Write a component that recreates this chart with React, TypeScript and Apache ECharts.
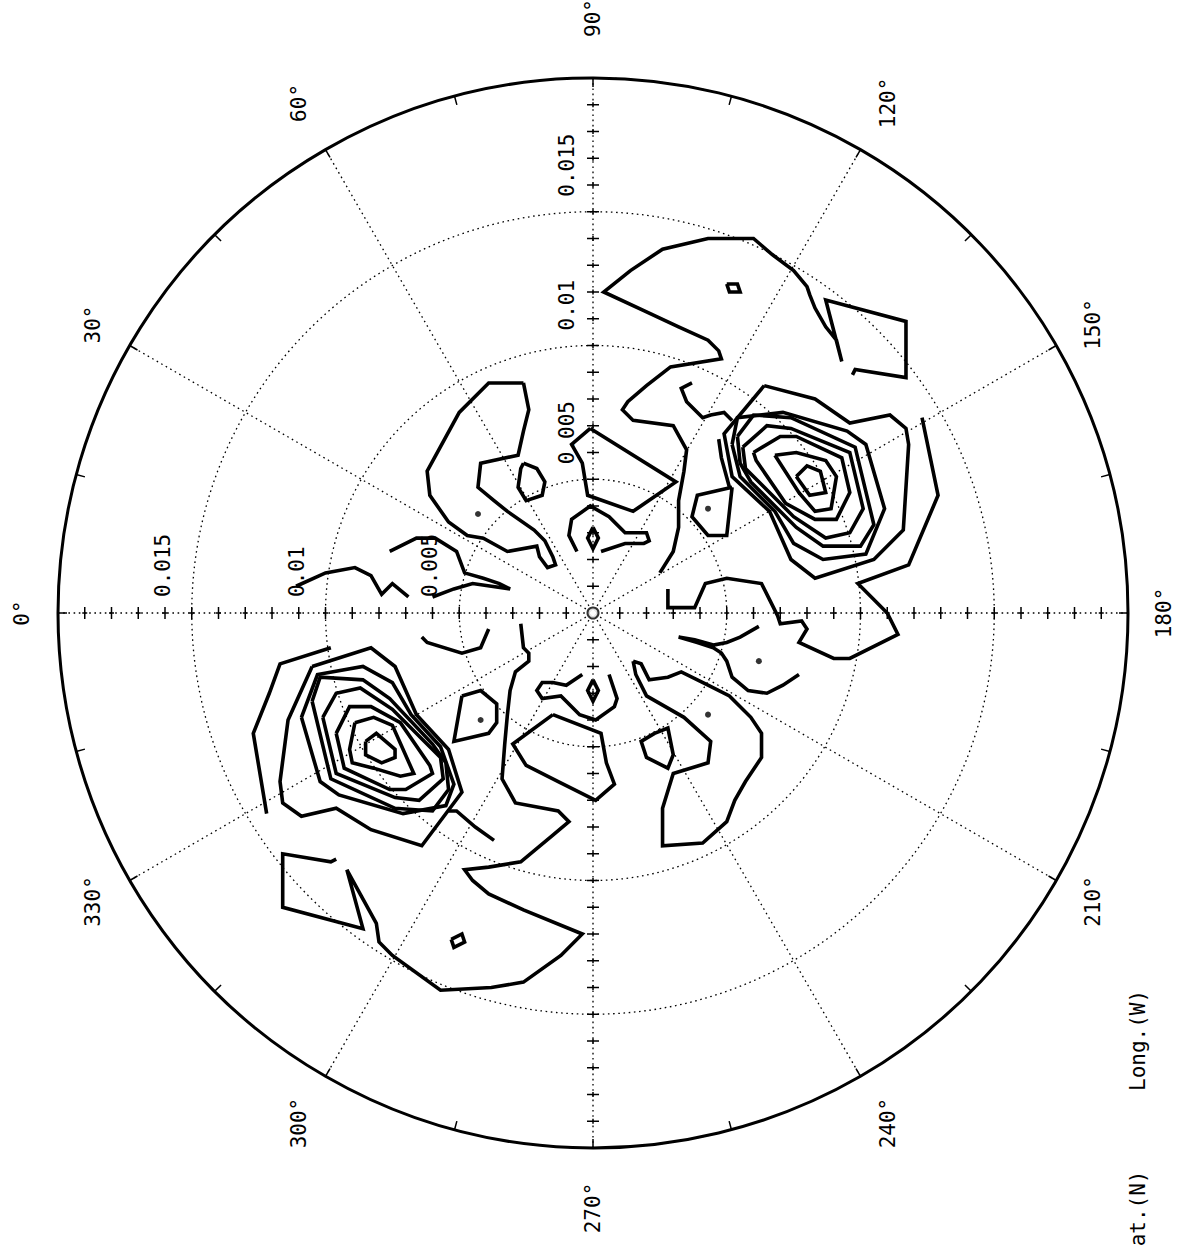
import React, { useEffect, useRef } from "react";
import * as echarts from "echarts";

// ---------------- axes ----------------
const LONGITUDES = [0, 30, 60, 90, 120, 150, 180, 210, 240, 270, 300, 330];
const LONGITUDE_LABELS = ["0°", "30°", "60°", "90°", "120°", "150°", "180°", "210°", "240°", "270°", "300°", "330°"];
const RADIUS_MAX = 0.02;
const RADIUS_LABEL_VALUES = [0.005, 0.01, 0.015];
const RADIUS_LABEL_TEXTS = ["0.005", "0.01", "0.015"];
const RADIUS_TICKS = [0.001, 0.002, 0.003, 0.004, 0.005, 0.006, 0.007, 0.008, 0.009, 0.01, 0.011, 0.012, 0.013, 0.014, 0.015, 0.016, 0.017, 0.018, 0.019];
const AXIS_ARMS = [0, 90, 180, 270];
const LABEL_LAT = "Lat.(N)";
const LABEL_LON = "Long.(W)";

// ---------------- contours ----------------
// vertices on the polar plane in units of 1e-4; x points toward 180°, y toward 90°
const ringNE1 = [[76, 51], [80, 55], [85, 53], [87, 45], [81, 44], [76, 51]];
const ringNE2 = [[68, 59], [76, 60], [87, 57], [91, 51], [90, 45], [89, 39], [83, 38], [77, 45], [68, 59]];
const ringNE3 = [[60, 60], [70, 66], [76, 66], [93, 58], [96, 45], [91, 35], [83, 35], [72, 41], [61, 57], [60, 60]];
const ringNE4 = [[56, 62], [65, 70], [74, 69], [96, 60], [101, 39], [96, 30], [87, 28], [75, 36], [63, 48], [57, 54], [56, 62]];
const ringNE5 = [[54, 66], [60, 74], [74, 73], [98, 62], [105, 33], [100, 25], [86, 25], [76, 32], [59, 49], [55, 56], [54, 66]];
const ringNE6 = [[52, 63], [54, 73], [71, 75], [95, 68], [102, 63], [109, 39], [102, 22], [86, 20], [75, 26], [68, 38], [55, 51], [52, 63]];
const ringNE7 = [[64, 85], [83, 80], [96, 71], [111, 74], [117, 69], [118, 63], [116, 31], [105, 20], [83, 13], [74, 20], [66, 38], [52, 51], [49, 67], [64, 85]];

const ringSW1 = [[-85, -48], [-81, -45], [-74, -51], [-74, -54], [-79, -56], [-85, -53], [-85, -48]];
const ringSW2 = [[-89, -41], [-82, -39], [-75, -42], [-67, -60], [-72, -61], [-82, -58], [-90, -56], [-91, -51], [-89, -41]];
const ringSW3 = [[-96, -45], [-91, -35], [-83, -35], [-72, -41], [-61, -57], [-60, -60], [-70, -66], [-76, -66], [-93, -58], [-96, -45]];
const ringSW4 = [[-101, -39], [-96, -30], [-87, -28], [-75, -36], [-63, -48], [-57, -54], [-56, -62], [-65, -70], [-74, -69], [-96, -60], [-101, -39]];
const ringSW5 = [[-105, -33], [-102, -24], [-86, -25], [-76, -32], [-60, -49], [-55, -56], [-54, -66], [-60, -74], [-74, -73], [-98, -62], [-105, -33]];
const ringSW6 = [[-109, -39], [-103, -23], [-86, -20], [-75, -26], [-68, -38], [-57, -50], [-52, -64], [-55, -72], [-71, -75], [-95, -68], [-102, -63], [-109, -39]];
const ringSW7 = [[-105, -20], [-83, -13], [-74, -20], [-66, -38], [-54, -51], [-49, -67], [-64, -87], [-83, -81], [-96, -73], [-109, -76], [-116, -71], [-117, -63], [-114, -40], [-105, -20]];

const arcNorth = [[97, 89], [98, 91], [117, 88], [117, 109], [87, 117], [93, 94], [91, 102], [87, 107], [83, 114], [81, 119], [80, 122], [75, 128], [67, 134], [60, 140], [43, 140], [26, 136], [14, 128], [4, 120], [19, 113], [32, 107], [43, 102], [47, 98], [48, 95], [29, 92], [20, 85], [13, 79], [11, 76], [15, 72], [30, 70], [35, 61], [34, 53], [32, 42], [32, 32], [30, 23], [25, 15]];
const arcSouth = [[-96, -92], [-98, -93], [-116, -90], [-116, -110], [-86, -118], [-92, -96], [-81, -116], [-80, -123], [-75, -128], [-57, -141], [-38, -140], [-26, -138], [-12, -128], [-4, -120], [-26, -111], [-39, -105], [-45, -100], [-48, -96], [-39, -95], [-27, -93], [-15, -83], [-9, -78], [-13, -74], [-29, -71], [-34, -62], [-33, -49], [-32, -38], [-31, -29], [-29, -22], [-24, -18], [-24, -15], [-26, -13], [-27, -4]];

const loopNorth = [[50, 123], [54, 123], [55, 120], [51, 120], [50, 123]];
const loopSouth = [[-53, -122], [-49, -120], [-48, -123], [-52, -125], [-53, -122]];
const hookNE = [[37, 86], [33, 84], [35, 79], [41, 73], [44, 74], [49, 75], [52, 72]];
const hookSW = [[-37, -85], [-44, -80], [-51, -74], [-54, -74]];
const tailNE = [[47, 65], [48, 58], [51, 47]];
const cellNE = [[52, 47], [39, 44], [37, 36], [43, 29], [50, 29], [52, 47]];
const cellSW = [[-49, -31], [-42, -29], [-36, -34], [-36, -41], [-39, -45], [-52, -48], [-49, -31]];

const blobNW = [[-26, 86], [-24, 76], [-26, 68], [-28, 59], [-42, 56], [-43, 47], [-37, 42], [-32, 38], [-22, 31], [-18, 27], [-15, 21], [-14, 18], [-17, 17], [-20, 21], [-21, 25], [-32, 23], [-41, 28], [-47, 29], [-54, 34], [-61, 44], [-62, 53], [-50, 75], [-39, 86], [-26, 86]];
const blobSE = [[15, -18], [18, -19], [21, -25], [28, -24], [33, -22], [43, -27], [51, -31], [59, -39], [63, -45], [63, -54], [57, -63], [53, -70], [50, -78], [41, -86], [26, -87], [26, -73], [30, -60], [43, -56], [44, -48], [34, -39], [20, -31], [16, -23], [15, -18]];
const smallNW = [[-26, 56], [-21, 54], [-18, 49], [-19, 44], [-25, 42], [-28, 47], [-27, 54], [-26, 56]];
const smallSE = [[23, -45], [18, -48], [20, -54], [28, -58], [30, -53], [28, -43], [23, -45]];
const pentaN = [[-1, 69], [-8, 63], [-4, 56], [-2, 44], [15, 38], [31, 49], [-1, 69]];
const pentaS = [[-15, -38], [-30, -49], [-25, -57], [-13, -63], [1, -70], [8, -64], [5, -56], [3, -45], [-15, -38]];
const cupN = [[-6, 23], [-9, 29], [-8, 35], [-1, 40], [6, 36], [12, 30], [20, 30], [21, 27], [19, 26], [12, 26], [3, 23]];
const cupS = [[6, -23], [9, -32], [8, -35], [1, -40], [-5, -38], [-12, -31], [-19, -32], [-21, -29], [-19, -26], [-15, -26], [-10, -27], [-4, -23]];
const diamondN = [[0, 32], [2, 28], [0, 24], [-2, 28], [0, 32]];
const diamondS = [[0, -25], [2, -29], [0, -33], [-2, -29], [0, -25]];
const spikeW = [[-76, 23], [-66, 28], [-59, 28], [-51, 23], [-48, 15], [-41, 13], [-35, 11], [-31, 9], [-38, 10], [-45, 11], [-52, 9], [-60, 6]];
const spikeE = [[77, -23], [71, -27], [65, -30], [58, -29], [52, -24], [50, -18], [48, -15], [45, -13], [39, -11], [32, -9], [38, -10], [45, -12], [50, -11], [55, -9], [62, -5]];
const zigW = [[-111, 10], [-100, 15], [-89, 17], [-83, 14], [-79, 7], [-75, 11], [-69, 6]];
const edgeSW = [[-98, -13], [-117, -19], [-121, -30], [-127, -45], [-122, -75]];
const cupSW = [[-64, -9], [-62, -11], [-49, -15], [-42, -13], [-39, -6]];
const edgeE = [[28, 9], [28, 2], [38, 2], [42, 11], [50, 13], [63, 11], [66, 5], [69, -1], [70, -4], [78, -3], [80, -6], [77, -11], [90, -17], [96, -17], [114, -8], [110, 0], [99, 11], [118, 18], [129, 44], [123, 73]];
const DOTS = [[43, 39], [-43, 37], [43, -38], [-42, -40], [62, -18]];

const CONTOURS = [
  ringNE1, ringNE2, ringNE3, ringNE4, ringNE5, ringNE6, ringNE7,
  ringSW1, ringSW2, ringSW3, ringSW4, ringSW5, ringSW6, ringSW7,
  arcNorth, arcSouth, loopNorth, loopSouth, hookNE, hookSW, tailNE, cellNE, cellSW,
  blobNW, blobSE, smallNW, smallSE, pentaN, pentaS, cupN, cupS, diamondN, diamondS,
  spikeW, spikeE, zigW, edgeSW, cupSW, edgeE,
];

const UNIT = 1e-4;
function toPolar(p: number[]) {
  const r = Math.hypot(p[0], p[1]) * UNIT;
  let lon = 180 - (Math.atan2(p[1], p[0]) * 180) / Math.PI;
  lon = ((lon % 360) + 360) % 360;
  return [r, lon];
}

const FONT = '"DejaVu Sans Mono", "Liberation Mono", monospace';
const CENTER = [593, 613];
const RADIUS_PX = 535;

export default function App() {
  const ref = useRef<HTMLDivElement>(null);
  useEffect(() => {
    const chart = echarts.init(ref.current!, null, { renderer: "svg" });
    const dotted = { color: "#000", width: 1.3, type: [1.6, 3.6] as any };

    const tickData: number[][] = [];
    AXIS_ARMS.forEach((a) => RADIUS_TICKS.forEach((r) => tickData.push([r, a])));

    const series: any[] = CONTOURS.map((c) => ({
      type: "line",
      coordinateSystem: "polar",
      polarIndex: 0,
      data: c.map(toPolar),
      showSymbol: false,
      symbol: "none",
      silent: true,
      lineStyle: { color: "#000", width: 3.6, join: "miter" },
      z: 5,
    }));
    series.push({
      type: "scatter",
      coordinateSystem: "polar",
      data: DOTS.map(toPolar),
      symbol: "circle",
      symbolSize: 6,
      itemStyle: { color: "#000" },
      silent: true,
      z: 6,
    });
    series.push({
      type: "custom",
      coordinateSystem: "polar",
      data: tickData,
      silent: true,
      z: 4,
      renderItem: (params: any, api: any) => {
        const r = api.value(0);
        const a = api.value(1);
        const p = api.coord([r, a]);
        const horiz = a === 0 || a === 180;
        const L = 6;
        const s = 2.5;
        const style = { stroke: "#000", lineWidth: 1.5 };
        return {
          type: "group",
          children: [
            {
              type: "line",
              shape: horiz
                ? { x1: p[0], y1: p[1] - L, x2: p[0], y2: p[1] + L }
                : { x1: p[0] - L, y1: p[1], x2: p[0] + L, y2: p[1] },
              style,
            },
            {
              type: "line",
              shape: horiz
                ? { x1: p[0] - s, y1: p[1], x2: p[0] + s, y2: p[1] }
                : { x1: p[0], y1: p[1] - s, x2: p[0], y2: p[1] + s },
              style,
            },
          ],
        };
      },
    });
    series.push({
      type: "scatter",
      coordinateSystem: "polar",
      data: [[0, 0]],
      symbol: "emptyCircle",
      symbolSize: 11,
      itemStyle: { color: "#000", borderWidth: 1.6 },
      silent: true,
      z: 7,
    });

    chart.setOption({
      animation: false,
      backgroundColor: "#fff",
      textStyle: { fontFamily: FONT },
      polar: { center: CENTER, radius: RADIUS_PX },
      angleAxis: {
        type: "value",
        min: 0,
        max: 360,
        interval: 30,
        startAngle: 180,
        clockwise: true,
        axisLine: { show: true, lineStyle: { color: "#000", width: 3 } },
        axisTick: { show: true, inside: true, length: 9, lineStyle: { color: "#000", width: 1.5 } },
        minorTick: { show: true, splitNumber: 2, length: 9, lineStyle: { color: "#000", width: 1.5 } },
        axisLabel: { show: false },
        splitLine: { show: true, lineStyle: dotted },
      },
      radiusAxis: {
        type: "value",
        min: 0,
        max: RADIUS_MAX,
        interval: 0.005,
        axisLine: { show: false },
        axisTick: { show: false },
        axisLabel: { show: false },
        splitLine: { show: true, lineStyle: dotted },
      },
      series,
    });

    const toPx = (r: number, lon: number) => {
      let p: any = null;
      try {
        p = chart.convertToPixel({ polarIndex: 0 } as any, [r, lon]);
      } catch (e) {
        p = null;
      }
      if (!p || isNaN(p[0])) {
        const rad = (lon * Math.PI) / 180;
        const d = (r / RADIUS_MAX) * RADIUS_PX;
        p = [CENTER[0] - Math.cos(rad) * d, CENTER[1] - Math.sin(rad) * d];
      }
      return p as number[];
    };

    const rot = Math.PI / 2;
    const textStyle = (text: string, align: string) => ({
      text,
      fill: "#000",
      fontSize: 21,
      fontFamily: FONT,
      align,
      verticalAlign: "middle",
    });
    const graphics: any[] = [];
    LONGITUDES.forEach((lon, i) => {
      const s = Math.sin((lon * Math.PI) / 180);
      const dist = 571 + 24 * s * s; // rotated text is longer along the vertical
      const p = toPx(RADIUS_MAX * (dist / RADIUS_PX), lon);
      graphics.push({ type: "text", x: p[0], y: p[1], rotation: rot, style: textStyle(LONGITUDE_LABELS[i], "center"), silent: true });
    });
    RADIUS_LABEL_VALUES.forEach((v, i) => {
      const pt = toPx(v, 90);
      graphics.push({ type: "text", x: pt[0] - 26, y: pt[1] - 15, rotation: rot, style: textStyle(RADIUS_LABEL_TEXTS[i], "left"), silent: true });
      const pl = toPx(v, 0);
      graphics.push({ type: "text", x: pl[0] - 29, y: pl[1] - 16, rotation: rot, style: textStyle(RADIUS_LABEL_TEXTS[i], "left"), silent: true });
    });
    graphics.push({ type: "text", x: 1138, y: 1091, rotation: rot, style: textStyle(LABEL_LON, "left"), silent: true });
    graphics.push({ type: "text", x: 1138, y: 1259, rotation: rot, style: textStyle(LABEL_LAT, "left"), silent: true });
    chart.setOption({ graphic: graphics });

    return () => chart.dispose();
  }, []);
  return <div ref={ref} style={{ position: "absolute", left: 0, top: 0, width: 1189, height: 1247 }} />;
}
